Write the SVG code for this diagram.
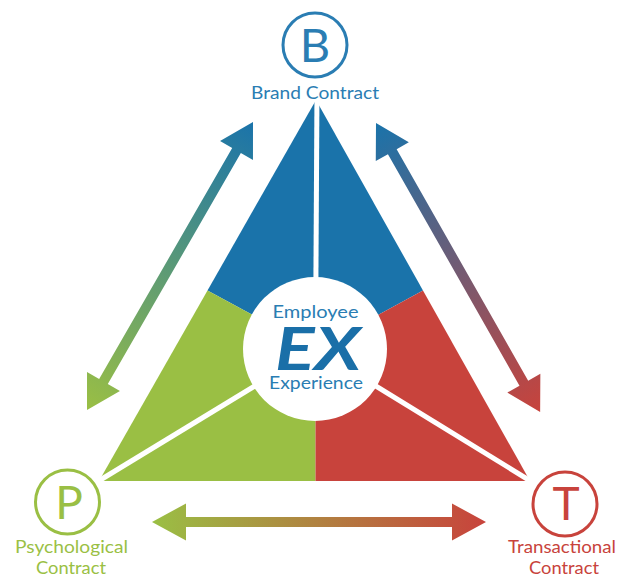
<svg xmlns="http://www.w3.org/2000/svg" width="618" height="579" viewBox="0 0 618 579">
<defs>
<style>
.lbl{font-family:Lato,"Noto Sans","DejaVu Sans",sans-serif;font-size:18px;text-anchor:middle}
.sub{font-family:Lato,"Noto Sans","DejaVu Sans",sans-serif;font-size:17px;text-anchor:middle}
.big{font-family:Lato,"Noto Sans","DejaVu Sans",sans-serif;font-weight:400;text-anchor:middle}
.ring{fill:none;stroke-width:3}
.sep{stroke:#ffffff;stroke-width:5;fill:none}
</style>
<linearGradient id="gLeft" x1="0" y1="0" x2="1" y2="0">
<stop offset="0" stop-color="#9abf44"/><stop offset="1" stop-color="#1a73aa"/>
</linearGradient>
<linearGradient id="gRight" x1="0" y1="0" x2="1" y2="0">
<stop offset="0" stop-color="#1a73aa"/><stop offset="1" stop-color="#c8433c"/>
</linearGradient>
<linearGradient id="gBottom" x1="0" y1="0" x2="1" y2="0">
<stop offset="0" stop-color="#9abf44"/><stop offset="1" stop-color="#c8433c"/>
</linearGradient>
</defs>
<rect width="618" height="579" fill="#ffffff"/>

<g id="triangle">
<polygon points="316,100 207.5,290.5 315.5,349 423,290.5" fill="#1a73aa"/>
<polygon points="99,481 207.5,290.5 315.5,349 315.5,481" fill="#9abf44"/>
<polygon points="530,481 423,290.5 315.5,349 315.5,481" fill="#c8433c"/>
<line class="sep" x1="317" y1="90" x2="315.5" y2="349"/>
<line class="sep" x1="92" y1="485" x2="315.5" y2="349"/>
<line class="sep" x1="537" y1="485" x2="315.5" y2="349"/>
</g>

<g id="center">
<circle cx="315" cy="349" r="72" fill="#ffffff"/>
<text class="lbl" x="315.5" y="318" textLength="86" lengthAdjust="spacingAndGlyphs" fill="#2a7db3">Employee</text>
<text x="318" y="370" textLength="86" lengthAdjust="spacingAndGlyphs" font-family="Lato,'Noto Sans','DejaVu Sans',sans-serif" font-weight="700" font-style="italic" font-size="59" text-anchor="middle" fill="#1a6fa8">EX</text>
<text class="lbl" x="316" y="389" textLength="94" lengthAdjust="spacingAndGlyphs" fill="#2a7db3">Experience</text>
</g>

<g id="node-B">
<circle class="ring" cx="315" cy="45" r="32" stroke="#2a7db3"/>
<text class="big" x="315" y="62" font-size="47" fill="#2a7db3">B</text>
<text class="lbl" x="315" y="99" textLength="128" lengthAdjust="spacingAndGlyphs" fill="#2a7db3">Brand Contract</text>
</g>

<g id="node-P">
<circle class="ring" cx="67.5" cy="502" r="32" stroke="#9abf44"/>
<text class="big" x="69" y="519" font-size="46" fill="#9abf44">P</text>
<text class="sub" x="71.5" y="553" textLength="113" lengthAdjust="spacingAndGlyphs" fill="#9abf44">Psychological</text>
<text class="sub" x="71" y="573.5" textLength="70" lengthAdjust="spacingAndGlyphs" fill="#9abf44">Contract</text>
</g>

<g id="node-T">
<circle class="ring" cx="565" cy="504" r="32" stroke="#c8433c"/>
<text class="big" x="566" y="520" font-size="46" fill="#c8433c">T</text>
<text class="sub" x="562" y="553" textLength="108" lengthAdjust="spacingAndGlyphs" fill="#c8433c">Transactional</text>
<text class="sub" x="564" y="573.5" textLength="70" lengthAdjust="spacingAndGlyphs" fill="#c8433c">Contract</text>
</g>

<g id="connectors">
<polygon transform="translate(87,410) rotate(-60.04)" fill="url(#gLeft)" points="0,0 33,-19 33,-5 299.4,-5 299.4,-19 332.4,0 299.4,19 299.4,5 33,5 33,19"/>
<polygon transform="translate(376,123) rotate(60.4)" fill="url(#gRight)" points="0,0 33,-19 33,-5 299.3,-5 299.3,-19 332.3,0 299.3,19 299.3,5 33,5 33,19"/>
<polygon transform="translate(152,522)" fill="url(#gBottom)" points="0,0 34,-18.5 34,-5 300,-5 300,-18.5 334,0 300,18.5 300,5 34,5 34,18.5"/>
</g>
</svg>
